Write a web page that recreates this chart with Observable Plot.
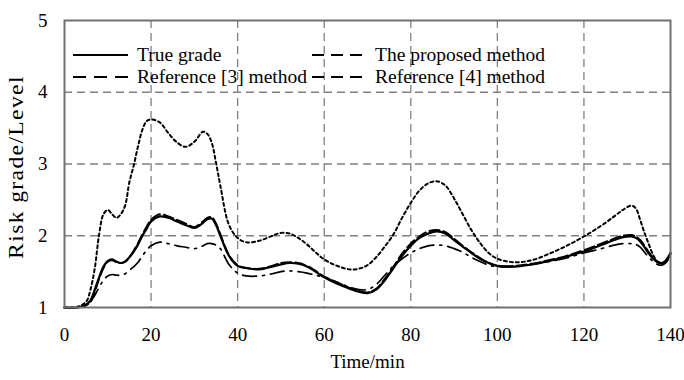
<!DOCTYPE html>
<html><head><meta charset="utf-8">
<script src="https://cdn.jsdelivr.net/npm/d3@7"></script>
<script src="https://cdn.jsdelivr.net/npm/@observablehq/plot@0.6"></script>
<style>
body{margin:0;background:#fff;}
#wrap{position:relative;width:684px;height:380px;font-family:"Liberation Serif","Times New Roman",Tinos,"DejaVu Serif",serif;}
#wrap svg text{font-family:"Liberation Serif","Times New Roman",Tinos,"DejaVu Serif",serif;}
.lg{position:absolute;font-size:19.5px;line-height:19px;color:#000;white-space:nowrap;display:flex;align-items:center;}
#ylab{position:absolute;left:16px;top:167px;font-size:20.5px;line-height:20px;white-space:nowrap;letter-spacing:1.2px;transform:translate(-50%,-50%) rotate(-90deg) scaleX(1.15);}
</style></head>
<body><div id="wrap"></div>
<script>
const time = [0,3,5,6,7,8,9,10,11,12,13,14,15,16,17,18,19,20,22,24,26,28,30,32,33,34,35,36,38,40,42,45,48,50,52,54,56,58,60,63,66,68,70,72,74,76,78,80,82,84,86,88,90,92,94,96,98,100,104,108,112,116,120,124,127,129,131,132,133,134,135,136,137,138,139,140];
const trueGrade = [1.00,1.00,1.04,1.10,1.25,1.42,1.57,1.65,1.67,1.64,1.62,1.64,1.70,1.78,1.88,2.00,2.10,2.20,2.27,2.25,2.20,2.15,2.11,2.18,2.23,2.24,2.15,2.00,1.72,1.58,1.55,1.53,1.57,1.60,1.62,1.61,1.57,1.50,1.42,1.33,1.26,1.22,1.20,1.25,1.38,1.55,1.72,1.86,1.97,2.03,2.06,2.03,1.94,1.85,1.76,1.68,1.62,1.58,1.57,1.60,1.65,1.71,1.78,1.87,1.94,1.98,1.99,1.97,1.92,1.84,1.75,1.68,1.63,1.62,1.66,1.76];
const proposed = [1.00,1.00,1.03,1.08,1.22,1.40,1.55,1.64,1.66,1.63,1.62,1.64,1.70,1.79,1.90,2.02,2.13,2.22,2.30,2.27,2.22,2.17,2.12,2.20,2.25,2.26,2.17,2.02,1.73,1.59,1.55,1.54,1.58,1.62,1.63,1.62,1.58,1.51,1.43,1.35,1.27,1.23,1.21,1.26,1.40,1.57,1.75,1.89,1.99,2.06,2.08,2.05,1.96,1.86,1.77,1.69,1.62,1.58,1.58,1.61,1.66,1.72,1.80,1.89,1.96,2.00,2.01,1.99,1.94,1.86,1.77,1.69,1.64,1.62,1.65,1.74];
const ref3 = [1.00,1.01,1.08,1.25,1.55,2.02,2.30,2.36,2.30,2.25,2.30,2.42,2.75,2.98,3.25,3.48,3.60,3.62,3.58,3.43,3.30,3.24,3.31,3.45,3.42,3.30,3.02,2.70,2.15,1.97,1.91,1.93,2.00,2.04,2.03,1.97,1.88,1.77,1.67,1.58,1.53,1.54,1.59,1.70,1.85,2.02,2.25,2.46,2.63,2.73,2.76,2.70,2.52,2.30,2.08,1.90,1.76,1.68,1.63,1.66,1.75,1.86,1.99,2.14,2.27,2.36,2.42,2.38,2.22,2.04,1.88,1.73,1.64,1.61,1.66,1.76];
const ref4 = [1.00,1.00,1.03,1.08,1.17,1.28,1.38,1.44,1.46,1.45,1.45,1.47,1.52,1.57,1.63,1.72,1.80,1.86,1.91,1.89,1.86,1.84,1.82,1.86,1.89,1.89,1.87,1.82,1.60,1.48,1.44,1.44,1.47,1.50,1.51,1.50,1.48,1.45,1.42,1.35,1.28,1.25,1.25,1.32,1.45,1.58,1.68,1.76,1.82,1.86,1.87,1.86,1.82,1.77,1.70,1.64,1.59,1.57,1.57,1.60,1.64,1.69,1.76,1.82,1.87,1.89,1.89,1.88,1.84,1.77,1.70,1.64,1.60,1.59,1.63,1.72];
const xTicks = [0,20,40,60,80,100,120,140];
const yTicks = [1,2,3,4,5];
const xGrid = [20,40,60,80,100,120];
const yGrid = [2,3,4];
const seriesNames = ["True grade","The proposed method","Reference [3] method","Reference [4] method"];
const xTitle = "Time/min";
const yTitle = "Risk grade/Level";

const rows = (vals) => time.map((t,i)=>({t, v: vals[i]}));
const font = '"Liberation Serif","Times New Roman",Tinos,"DejaVu Serif",serif';

const chart = Plot.plot({
  width: 684, height: 380,
  marginLeft: 64, marginRight: 14, marginTop: 20, marginBottom: 73,
  style: {fontFamily: font, fontSize: "19px", background: "#fff", color: "#000"},
  x: {domain: [0,140]},
  y: {domain: [1,5]},
  marks: [
    Plot.ruleX(xGrid, {stroke: "#808080", strokeWidth: 1.3, strokeDasharray: "8,5"}),
    Plot.ruleY(yGrid, {stroke: "#808080", strokeWidth: 1.3, strokeDasharray: "8,5"}),
    Plot.line(rows(ref3), {x: "t", y: "v", curve: "catmull-rom", stroke: "#000", strokeWidth: 2, strokeDasharray: "3,3"}),
    Plot.line(rows(ref4), {x: "t", y: "v", curve: "catmull-rom", stroke: "#000", strokeWidth: 1.7, strokeDasharray: "14,6,2,6"}),
    Plot.line(rows(trueGrade), {x: "t", y: "v", curve: "catmull-rom", stroke: "#000", strokeWidth: 2.2}),
    Plot.line(rows(proposed), {x: "t", y: "v", curve: "catmull-rom", stroke: "#000", strokeWidth: 2, strokeDasharray: "10,4"}),
    Plot.frame({stroke: "#707070", strokeWidth: 2}),
    Plot.axisX({ticks: xTicks, tickFormat: "d", tickSize: 0, tickPadding: 20, fontSize: 19, label: xTitle, labelAnchor: "center", labelOffset: 60, labelArrow: "none"}),
    Plot.axisY({ticks: yTicks, tickFormat: "d", tickSize: 0, tickPadding: 17, fontSize: 19, label: null})
  ]
});
const wrap = document.getElementById("wrap");
wrap.appendChild(chart);

const yl = document.createElement("div");
yl.id = "ylab";
yl.textContent = yTitle;
wrap.appendChild(yl);

const legendStyle = [
  {left: 73, top: 45, w: 55, gap: 9, dash: ""},
  {left: 312, top: 45, w: 50, gap: 13, dash: "12,7"},
  {left: 73, top: 67, w: 55, gap: 9, dash: "13,8"},
  {left: 312, top: 67, w: 50, gap: 13, dash: "12,7"}
];
seriesNames.forEach((name,i)=>{
  const s = legendStyle[i];
  const d = document.createElement("div");
  d.className = "lg";
  d.style.left = s.left+"px";
  d.style.top = s.top+"px";
  d.innerHTML = `<svg width="${s.w}" height="18" style="margin-right:${s.gap}px"><line x1="0" y1="9" x2="${s.w}" y2="9" stroke="#000" stroke-width="2.2" ${s.dash?`stroke-dasharray="${s.dash}"`:""}/></svg><span>${name}</span>`;
  wrap.appendChild(d);
});
</script></body></html>
